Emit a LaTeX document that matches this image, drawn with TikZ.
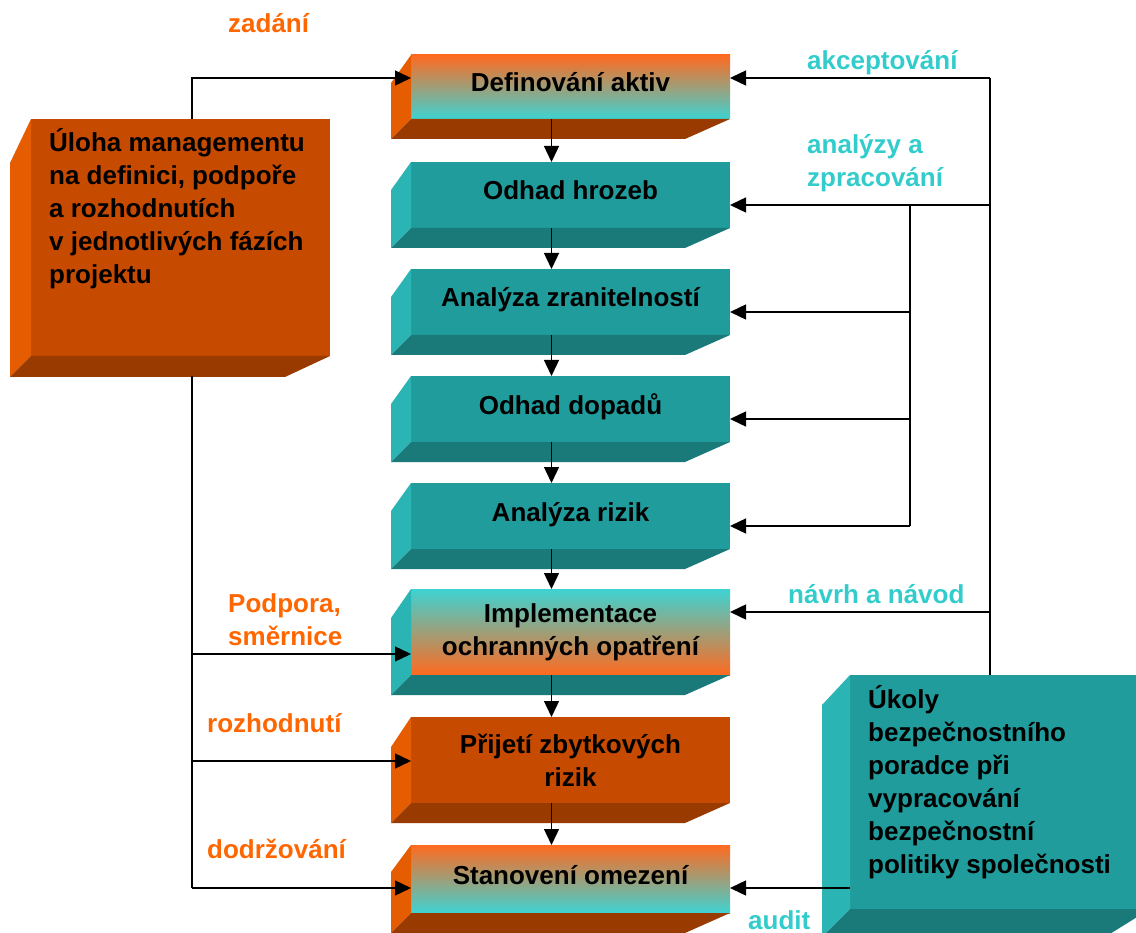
\documentclass[tikz,border=0pt]{standalone}
\usepackage{fontspec}
\setmainfont{Liberation Sans}
\usetikzlibrary{arrows.meta,calc}

\definecolor{orFront}{HTML}{C64A00}
\definecolor{orSide}{HTML}{E65C00}
\definecolor{orBottom}{HTML}{993A00}
\definecolor{tlFront}{HTML}{209C9C}
\definecolor{tlSide}{HTML}{2AB4B4}
\definecolor{tlBottom}{HTML}{1A7A7A}
\definecolor{gradOr}{HTML}{FF6A1F}
\definecolor{gradTl}{HTML}{3DD3D3}
\definecolor{lblOr}{HTML}{FF6600}
\definecolor{lblTl}{HTML}{33CCCC}

\newcommand\bigbold{\fontsize{26}{33}\selectfont\bfseries}

% side and bottom faces of a box: name, side colour, bottom colour, drop, depth
\newcommand\extrude[5]{%
  \fill[#2] (#1.north west) -- ++(-#5,#4) -- ($(#1.south west)+(-#5,#5)$) -- (#1.south west) -- cycle;
  \fill[#3] ($(#1.south west)+(-#5,#5)$) -- (#1.south west) -- (#1.south east)
            -- ($(#1.south east)+(-45,#5)$) -- cycle;}

\tikzset{
  front/.style={rectangle, draw=none, inner sep=0pt, outer sep=0pt, anchor=north west,
                font=\bigbold, align=center, minimum width=319pt},
  oneline/.style={text height=19pt, text depth=9pt},
  orangebox/.style={front, fill=orFront},
  tealbox/.style={front, fill=tlFront},
  otgrad/.style={front, top color=gradOr, bottom color=gradTl},
  tograd/.style={front, top color=gradTl, bottom color=gradOr},
  % multi-line labels are placed by the baseline of their last line
  lbl/.style={anchor=base west, font=\bigbold, align=left, inner sep=0pt},
  lblo/.style={lbl, text=lblOr},
  lblt/.style={lbl, text=lblTl},
  conn/.style={line width=1.4pt, black},
  arr/.style={conn, -{Triangle[length=16pt,width=15pt]}}
}

\begin{document}
\begin{tikzpicture}[x=1pt, y=-1pt]
\useasboundingbox (0,0) rectangle (1136,933);
\clip (0,0) rectangle (1136,933);

% left management box
\node[orangebox, minimum width=299pt, minimum height=237pt] (mgmt) at (31,119) {};
\extrude{mgmt}{orSide}{orBottom}{44}{21}
\node[lbl] (mgmttext) at (49,284) {Úloha managementu\\na definici, podpoře\\a rozhodnutích\\v jednotlivých fázích\\projektu};

% right advisor box
\node[tealbox, minimum width=300pt, minimum height=234pt] (adv) at (850,675) {};
\extrude{adv}{tlSide}{tlBottom}{30}{28}
\node[lbl] (advtext) at (868,873) {Úkoly\\bezpečnostního\\poradce při\\vypracování\\bezpečnostní\\politiky společnosti};

% central process chain
\node[otgrad, oneline, minimum height=64pt] (b1) at (411,55) {Definování aktiv};
\extrude{b1}{orSide}{orBottom}{28}{20}
\node[tealbox, oneline, minimum height=66pt] (b2) at (411,162) {Odhad hrozeb};
\extrude{b2}{tlSide}{tlBottom}{28}{20}
\node[tealbox, oneline, minimum height=66pt] (b3) at (411,269) {Analýza zranitelností};
\extrude{b3}{tlSide}{tlBottom}{28}{20}
\node[tealbox, oneline, minimum height=66pt] (b4) at (411,376) {Odhad dopadů};
\extrude{b4}{tlSide}{tlBottom}{28}{20}
\node[tealbox, oneline, minimum height=66pt] (b5) at (411,483) {Analýza rizik};
\extrude{b5}{tlSide}{tlBottom}{28}{20}
\node[tograd, minimum height=86pt] (b6) at (411,589) {Implementace\\ochranných opatření};
\extrude{b6}{tlSide}{tlBottom}{29}{20}
\node[orangebox, minimum height=86pt] (b7) at (411,717) {Přijetí zbytkových\\rizik};
\extrude{b7}{orSide}{orBottom}{30}{20}
\node[otgrad, oneline, minimum height=68pt] (b8) at (411,845) {Stanovení omezení};
\extrude{b8}{orSide}{orBottom}{27}{20}

% arrows down the chain
\foreach \a/\b in {b1/b2,b2/b3,b3/b4,b4/b5,b5/b6,b6/b7,b7/b8}
  \draw[arr] ($(\a.south)+(-19,0)$) -- ($(\b.north)+(-19,0)$);

% management feeds
\coordinate (Lt) at (192,78);
\coordinate (Lb) at (192,376);
\coordinate (L1) at (192,654);
\coordinate (L2) at (192,761);
\coordinate (L3) at (192,888);
\draw[arr] (Lt |- mgmt.north) -- (Lt) -- (b1.west |- Lt);
\draw[conn] (Lb) -- (L3);
\draw[arr] (L1) -- (b6.west |- L1);
\draw[arr] (L2) -- (b7.west |- L2);
\draw[arr] (L3) -- (b8.west |- L3);

% advisor feeds
\coordinate (R0) at (990,78);
\coordinate (R1) at (990,205);
\coordinate (R2) at (990,612);
\coordinate (I1) at (910,205);
\coordinate (I2) at (910,312);
\coordinate (I3) at (910,419);
\coordinate (I4) at (910,526);
\coordinate (Au) at (850,888);
\draw[conn] (R0 |- adv.north) -- (R0);
\draw[arr] (R0) -- (b1.east |- R0);
\draw[arr] (R1) -- (b2.east |- R1);
\draw[conn] (I1) -- (I4);
\draw[arr] (I2) -- (b3.east |- I2);
\draw[arr] (I3) -- (b4.east |- I3);
\draw[arr] (I4) -- (b5.east |- I4);
\draw[arr] (R2) -- (b6.east |- R2);
\draw[arr] (adv.west |- Au) -- (b8.east |- Au);

% labels
\node[lblo] (lzad) at (228,33) {zadání};
\node[lblo] (lpod) at (228,645) {Podpora,\\směrnice};
\node[lblo] (lroz) at (207,732) {rozhodnutí};
\node[lblo] (ldod) at (207,858) {dodržování};
\node[lblt] (lakc) at (807,70) {akceptování};
\node[lblt] (lana) at (807,187) {analýzy a\\zpracování};
\node[lblt] (lnav) at (788,603) {návrh a návod};
\node[lblt] (laud) at (748,929) {audit};
\end{tikzpicture}
\end{document}
